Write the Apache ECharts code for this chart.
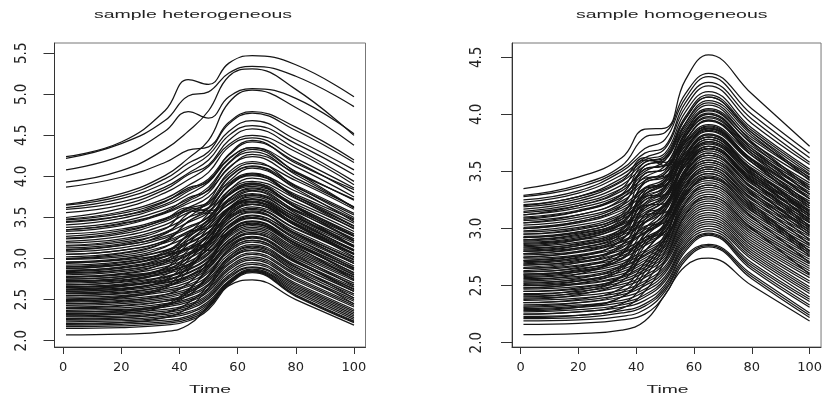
<!DOCTYPE html>
<html>
<head>
<meta charset="utf-8">
<script src="https://cdn.jsdelivr.net/npm/echarts@6/dist/echarts.min.js"></script>
<style>html,body{margin:0;padding:0;background:#fff}#chart{width:825px;height:396px}</style>
</head>
<body>
<div id="chart"></div>
<script>
const timePoints = [1, 20, 35, 43, 50, 57, 65, 80, 100];
const xTicks = [0, 20, 40, 60, 80, 100];
const heteroYTicks = [2.0, 2.5, 3.0, 3.5, 4.0, 4.5, 5.0, 5.5];
const homoYTicks = [2.0, 2.5, 3.0, 3.5, 4.0, 4.5];
const panelTitles = ['sample heterogeneous', 'sample homogeneous'];
const xTitle = 'Time';

// ---- sample heterogeneous (values at timePoints) ----
const heteroTop = [
  [4.24,4.42,4.80,5.18,5.12,5.38,5.47,5.36,4.97],
  [4.22,4.40,4.68,4.98,5.03,5.26,5.34,5.22,4.85],
  [4.08,4.25,4.55,4.79,4.71,4.97,5.07,4.95,4.52],
  [3.93,4.07,4.33,4.55,4.80,5.22,5.31,5.06,4.50],
  [3.87,3.99,4.17,4.32,4.36,4.66,4.79,4.60,4.20]
];
const heteroUpper = [
  [3.66,3.79,4.01,4.22,4.44,4.90,5.05,4.84,4.38],
  [3.65,3.76,3.97,4.16,4.30,4.64,4.77,4.56,4.17],
  [3.62,3.73,3.92,4.10,4.26,4.55,4.68,4.45,4.08],
  [3.60,3.69,3.87,4.04,4.20,4.50,4.62,4.40,4.02],
  [3.56,3.65,3.84,4.02,4.14,4.44,4.58,4.34,3.94],
  [3.50,3.61,3.80,3.96,4.12,4.39,4.50,4.30,3.90],
  [3.48,3.57,3.73,3.89,4.05,4.36,4.47,4.22,3.86],
  [3.47,3.55,3.70,3.84,3.97,4.26,4.42,4.18,3.80],
  [3.44,3.52,3.69,3.86,3.94,4.27,4.44,4.16,3.84],
  [3.41,3.49,3.64,3.78,3.93,4.21,4.35,4.12,3.75],
  [3.38,3.45,3.60,3.72,3.87,4.17,4.33,4.06,3.71],
  [3.35,3.43,3.57,3.74,3.83,4.10,4.27,4.04,3.72],
  [3.33,3.40,3.55,3.67,3.80,4.11,4.24,3.98,3.63],
  [3.30,3.36,3.49,3.62,3.75,4.02,4.16,3.95,3.60],
  [3.27,3.34,3.47,3.61,3.69,3.99,4.13,3.89,3.55],
  [3.24,3.30,3.45,3.59,3.66,3.94,4.10,3.87,3.53],
  [3.21,3.27,3.41,3.56,3.62,3.88,4.03,3.82,3.48],
  [3.19,3.24,3.37,3.50,3.61,3.89,4.01,3.78,3.47]
];
const heteroMiddle = [
  [3.16,3.22,3.36,3.58,3.55,3.83,3.98,3.76,3.43],
  [3.13,3.18,3.31,3.44,3.56,3.83,3.94,3.73,3.39],
  [3.11,3.16,3.27,3.39,3.50,3.78,3.92,3.69,3.37],
  [3.08,3.13,3.25,3.37,3.51,3.77,3.88,3.66,3.33],
  [3.05,3.10,3.21,3.33,3.47,3.73,3.86,3.63,3.30],
  [3.02,3.07,3.19,3.31,3.43,3.70,3.83,3.59,3.27],
  [3.00,3.04,3.15,3.27,3.43,3.67,3.79,3.57,3.24],
  [2.99,3.02,3.14,3.33,3.37,3.61,3.77,3.53,3.21],
  [2.96,3.00,3.10,3.22,3.37,3.61,3.73,3.50,3.19],
  [2.94,2.99,3.09,3.19,3.33,3.57,3.72,3.48,3.16],
  [2.92,2.96,3.06,3.18,3.32,3.59,3.69,3.46,3.14],
  [2.90,2.93,3.03,3.14,3.29,3.53,3.66,3.43,3.11],
  [2.88,2.92,3.02,3.12,3.27,3.51,3.63,3.41,3.09],
  [2.86,2.89,2.99,3.11,3.26,3.50,3.61,3.37,3.06],
  [2.84,2.88,2.97,3.07,3.21,3.48,3.60,3.36,3.05],
  [2.83,2.86,2.95,3.05,3.20,3.45,3.57,3.33,3.01],
  [2.80,2.84,2.93,3.04,3.18,3.44,3.56,3.31,2.99],
  [2.78,2.81,2.90,3.00,3.15,3.41,3.53,3.28,2.96],
  [2.77,2.80,2.88,3.12,3.10,3.38,3.50,3.26,2.94],
  [2.75,2.78,2.86,2.96,3.11,3.37,3.49,3.24,2.91],
  [2.73,2.76,2.84,2.93,3.08,3.34,3.46,3.21,2.89],
  [2.72,2.74,2.83,2.92,3.06,3.33,3.45,3.19,2.87],
  [2.70,2.73,2.81,2.90,3.05,3.30,3.43,3.18,2.86]
];
const heteroLower = [
  [2.68,2.71,2.78,2.87,3.02,3.28,3.40,3.16,2.83],
  [2.66,2.69,2.77,2.86,3.00,3.26,3.38,3.13,2.80],
  [2.65,2.67,2.74,2.83,2.97,3.23,3.36,3.11,2.78],
  [2.63,2.66,2.73,2.82,2.96,3.22,3.34,3.09,2.77],
  [2.62,2.64,2.71,2.79,2.93,3.19,3.32,3.07,2.75],
  [2.60,2.63,2.70,2.78,2.92,3.18,3.30,3.05,2.73],
  [2.58,2.61,2.68,2.76,2.90,3.16,3.27,3.02,2.70],
  [2.57,2.59,2.66,2.74,2.88,3.14,3.26,3.00,2.68],
  [2.55,2.57,2.63,2.71,2.85,3.10,3.22,2.97,2.65],
  [2.53,2.55,2.61,2.68,2.83,3.08,3.20,2.95,2.63],
  [2.51,2.53,2.59,2.66,2.79,3.05,3.17,2.92,2.60],
  [2.49,2.51,2.56,2.63,2.76,3.02,3.14,2.89,2.57],
  [2.47,2.49,2.54,2.61,2.74,3.00,3.12,2.87,2.55],
  [2.45,2.47,2.52,2.59,2.72,2.98,3.10,2.85,2.52],
  [2.43,2.45,2.50,2.56,2.69,2.95,3.07,2.82,2.50],
  [2.41,2.43,2.48,2.54,2.67,2.93,3.05,2.80,2.48],
  [2.39,2.40,2.45,2.51,2.64,2.90,3.02,2.77,2.45],
  [2.37,2.38,2.43,2.49,2.62,2.88,3.00,2.75,2.43],
  [2.35,2.36,2.41,2.47,2.60,2.86,2.98,2.73,2.41],
  [2.33,2.34,2.38,2.44,2.57,2.83,2.95,2.70,2.38],
  [2.31,2.32,2.36,2.42,2.55,2.80,2.93,2.68,2.36],
  [2.29,2.30,2.34,2.40,2.53,2.78,2.90,2.66,2.34],
  [2.27,2.28,2.32,2.38,2.51,2.76,2.89,2.64,2.32],
  [2.25,2.26,2.30,2.35,2.48,2.73,2.87,2.62,2.30],
  [2.23,2.24,2.28,2.33,2.46,2.72,2.86,2.60,2.28],
  [2.21,2.22,2.25,2.30,2.44,2.71,2.85,2.58,2.26],
  [2.19,2.20,2.23,2.28,2.42,2.70,2.84,2.56,2.24],
  [2.17,2.18,2.21,2.26,2.40,2.70,2.84,2.55,2.23],
  [2.15,2.16,2.19,2.24,2.38,2.68,2.83,2.54,2.22],
  [2.07,2.08,2.11,2.19,2.42,2.67,2.74,2.50,2.19]
];
const heteroCross = [
  [2.62,2.66,2.80,3.02,3.30,3.62,3.75,3.50,3.15],
  [2.95,2.98,3.05,3.12,3.20,3.40,3.52,3.30,2.98],
  [2.48,2.52,2.64,2.85,3.20,3.55,3.66,3.40,3.02],
  [3.25,3.32,3.48,3.62,3.58,3.70,3.82,3.55,3.15],
  [2.85,2.90,3.02,3.25,3.48,3.80,3.92,3.62,3.22],
  [2.30,2.33,2.42,2.60,2.92,3.30,3.42,3.15,2.74],
  [2.72,2.76,2.88,3.10,3.38,3.72,3.85,3.58,3.22],
  [3.05,3.10,3.22,3.45,3.62,3.98,4.12,3.85,3.45],
  [2.55,2.58,2.66,2.78,2.98,3.32,3.45,3.18,2.80],
  [2.40,2.42,2.48,2.58,2.80,3.12,3.25,2.98,2.62],
  [3.45,3.52,3.66,3.82,3.95,4.22,4.35,4.05,3.62],
  [2.78,2.82,2.95,3.18,3.44,3.78,3.90,3.62,3.28],
  [2.26,2.28,2.34,2.46,2.68,3.02,3.15,2.90,2.52],
  [2.90,2.95,3.08,3.30,3.55,3.90,4.02,3.74,3.36],
  [2.60,2.63,2.72,2.88,3.15,3.52,3.66,3.40,3.06],
  [3.15,3.20,3.32,3.50,3.70,4.05,4.18,3.88,3.50],
  [2.35,2.37,2.44,2.55,2.78,3.10,3.22,2.96,2.60],
  [2.68,2.72,2.84,3.05,3.30,3.60,3.70,3.42,3.05],
  [2.82,2.86,2.98,3.22,3.40,3.62,3.72,3.45,3.10],
  [2.45,2.48,2.56,2.70,2.96,3.30,3.42,3.18,2.82],
  [3.00,3.06,3.20,3.45,3.58,3.78,3.90,3.64,3.28],
  [2.58,2.62,2.74,2.98,3.25,3.60,3.72,3.46,3.10],
  [3.35,3.42,3.56,3.70,3.84,4.16,4.30,4.02,3.62],
  [2.20,2.22,2.28,2.40,2.64,2.98,3.10,2.84,2.45],
  [2.75,2.78,2.87,3.00,3.22,3.55,3.68,3.42,3.06],
  [2.50,2.54,2.66,2.90,3.12,3.40,3.50,3.24,2.88],
  [2.88,2.93,3.06,3.28,3.46,3.66,3.78,3.52,3.14],
  [2.65,2.68,2.76,2.92,3.18,3.48,3.58,3.30,2.94],
  [3.10,3.16,3.30,3.55,3.68,3.92,4.04,3.76,3.40],
  [2.32,2.35,2.44,2.62,2.88,3.20,3.30,3.04,2.66]
];

// ---- sample homogeneous (values at timePoints) ----
const homoUpper = [
  [3.35,3.45,3.62,3.87,3.88,4.30,4.52,4.18,3.72],
  [3.29,3.38,3.55,3.80,3.84,4.18,4.36,4.05,3.66],
  [3.28,3.36,3.52,3.70,3.78,4.14,4.33,4.00,3.62],
  [3.25,3.33,3.50,3.66,3.72,4.10,4.28,3.96,3.58],
  [3.23,3.31,3.47,3.62,3.70,4.06,4.25,3.92,3.56],
  [3.21,3.28,3.44,3.60,3.66,4.02,4.20,3.88,3.52],
  [3.19,3.26,3.41,3.58,3.64,3.98,4.17,3.86,3.50],
  [3.17,3.24,3.38,3.55,3.62,3.96,4.15,3.84,3.48],
  [3.15,3.22,3.35,3.50,3.60,3.92,4.10,3.80,3.47],
  [3.14,3.20,3.33,3.52,3.56,3.88,4.05,3.78,3.45],
  [3.12,3.18,3.30,3.45,3.55,3.86,4.03,3.75,3.43],
  [3.10,3.16,3.29,3.48,3.52,3.84,4.01,3.72,3.40],
  [3.09,3.15,3.27,3.42,3.50,3.82,4.00,3.70,3.38],
  [3.07,3.12,3.24,3.40,3.48,3.80,3.97,3.68,3.36],
  [3.05,3.10,3.22,3.44,3.46,3.77,3.94,3.66,3.34],
  [3.03,3.08,3.20,3.36,3.44,3.75,3.91,3.64,3.32],
  [3.01,3.06,3.18,3.33,3.42,3.73,3.89,3.61,3.30],
  [3.00,3.05,3.16,3.30,3.40,3.70,3.87,3.60,3.28]
];
const homoMiddle = [
  [2.98,3.03,3.14,3.35,3.38,3.68,3.85,3.58,3.26],
  [2.97,3.01,3.12,3.27,3.37,3.66,3.83,3.55,3.24],
  [2.95,2.99,3.10,3.25,3.35,3.64,3.80,3.53,3.22],
  [2.93,2.97,3.08,3.22,3.33,3.62,3.78,3.51,3.20],
  [2.92,2.96,3.06,3.28,3.30,3.60,3.76,3.49,3.18],
  [2.90,2.94,3.04,3.18,3.29,3.58,3.74,3.47,3.16],
  [2.89,2.93,3.03,3.16,3.27,3.57,3.72,3.45,3.15],
  [2.87,2.91,3.01,3.14,3.25,3.55,3.70,3.43,3.13],
  [2.86,2.90,2.99,3.20,3.22,3.52,3.68,3.41,3.11],
  [2.84,2.88,2.97,3.10,3.21,3.50,3.66,3.39,3.09],
  [2.83,2.86,2.96,3.08,3.20,3.49,3.64,3.37,3.07],
  [2.81,2.85,2.94,3.06,3.18,3.47,3.62,3.35,3.05],
  [2.80,2.83,2.92,3.05,3.16,3.46,3.60,3.33,3.03],
  [2.78,2.82,2.91,3.12,3.14,3.44,3.58,3.31,3.01],
  [2.77,2.80,2.89,3.01,3.12,3.42,3.56,3.29,2.99],
  [2.75,2.79,2.88,2.99,3.10,3.40,3.54,3.27,2.97],
  [2.74,2.77,2.86,2.97,3.09,3.38,3.52,3.25,2.95],
  [2.72,2.76,2.84,2.96,3.07,3.37,3.50,3.23,2.93],
  [2.71,2.74,2.83,3.02,3.05,3.35,3.48,3.21,2.91],
  [2.69,2.73,2.81,2.92,3.03,3.33,3.46,3.19,2.89],
  [2.68,2.71,2.79,2.90,3.02,3.31,3.44,3.17,2.87],
  [2.66,2.70,2.78,2.89,3.00,3.30,3.42,3.15,2.85],
  [2.65,2.68,2.76,2.87,2.98,3.28,3.40,3.13,2.83],
  [2.63,2.67,2.74,2.85,2.97,3.26,3.38,3.11,2.81],
  [2.62,2.65,2.73,2.92,2.95,3.24,3.36,3.09,2.79]
];
const homoLower = [
  [2.60,2.63,2.71,2.81,2.93,3.22,3.34,3.07,2.77],
  [2.59,2.62,2.69,2.79,2.91,3.20,3.32,3.05,2.75],
  [2.57,2.60,2.67,2.77,2.90,3.18,3.30,3.03,2.73],
  [2.56,2.58,2.66,2.76,2.88,3.16,3.28,3.01,2.71],
  [2.54,2.57,2.64,2.74,2.86,3.14,3.26,2.99,2.69],
  [2.53,2.55,2.62,2.72,2.84,3.12,3.24,2.97,2.67],
  [2.51,2.54,2.60,2.70,2.82,3.10,3.22,2.95,2.65],
  [2.50,2.52,2.58,2.68,2.80,3.08,3.20,2.93,2.63],
  [2.48,2.51,2.57,2.66,2.78,3.06,3.18,2.91,2.61],
  [2.47,2.49,2.55,2.64,2.76,3.04,3.16,2.89,2.59],
  [2.45,2.47,2.53,2.62,2.74,3.02,3.14,2.87,2.57],
  [2.43,2.45,2.51,2.59,2.72,3.00,3.12,2.85,2.54],
  [2.41,2.43,2.49,2.57,2.70,2.98,3.10,2.83,2.52],
  [2.39,2.41,2.46,2.54,2.67,2.96,3.08,2.81,2.49],
  [2.37,2.39,2.44,2.52,2.65,2.94,3.06,2.79,2.47],
  [2.35,2.37,2.42,2.50,2.63,2.92,3.04,2.77,2.45],
  [2.33,2.35,2.40,2.47,2.61,2.90,3.02,2.75,2.43],
  [2.31,2.33,2.37,2.45,2.58,2.88,3.00,2.73,2.40],
  [2.29,2.31,2.35,2.42,2.56,2.86,2.98,2.70,2.38],
  [2.27,2.29,2.33,2.40,2.54,2.84,2.96,2.68,2.36],
  [2.25,2.27,2.31,2.37,2.51,2.82,2.95,2.66,2.33],
  [2.23,2.24,2.28,2.34,2.49,2.80,2.94,2.64,2.31],
  [2.21,2.22,2.26,2.32,2.47,2.76,2.86,2.60,2.26],
  [2.19,2.20,2.23,2.29,2.45,2.74,2.85,2.58,2.24],
  [2.16,2.17,2.20,2.25,2.42,2.72,2.84,2.56,2.22],
  [2.07,2.08,2.11,2.19,2.42,2.67,2.74,2.50,2.19]
];
const homoCross = [
  [2.55,2.60,2.78,3.12,3.20,3.62,3.82,3.52,3.12],
  [2.88,2.92,3.05,3.30,3.38,3.55,3.70,3.44,3.08],
  [2.40,2.44,2.58,2.88,3.05,3.48,3.66,3.36,2.96],
  [3.20,3.28,3.42,3.62,3.55,3.78,3.95,3.64,3.26],
  [2.70,2.75,2.90,3.22,3.35,3.80,4.00,3.70,3.30],
  [2.28,2.31,2.40,2.62,2.90,3.35,3.52,3.22,2.80],
  [2.95,3.00,3.12,3.48,3.52,3.92,4.12,3.82,3.42],
  [2.62,2.66,2.80,3.05,3.20,3.55,3.72,3.42,3.02],
  [2.48,2.52,2.64,2.92,3.10,3.50,3.70,3.40,3.00],
  [3.05,3.12,3.26,3.55,3.60,3.90,4.08,3.76,3.36],
  [2.35,2.38,2.48,2.70,2.95,3.30,3.45,3.18,2.78],
  [2.80,2.85,2.98,3.35,3.40,3.70,3.86,3.58,3.20],
  [2.22,2.24,2.30,2.45,2.72,3.12,3.28,3.00,2.60],
  [2.92,2.97,3.10,3.40,3.45,3.62,3.76,3.48,3.12],
  [2.58,2.62,2.74,3.00,3.18,3.62,3.80,3.50,3.10],
  [3.12,3.20,3.35,3.60,3.58,3.82,3.98,3.68,3.30],
  [2.45,2.48,2.58,2.80,3.02,3.42,3.58,3.30,2.90],
  [2.75,2.80,2.94,3.25,3.30,3.55,3.70,3.42,3.05],
  [2.65,2.70,2.85,3.18,3.28,3.68,3.88,3.58,3.18],
  [2.32,2.35,2.44,2.66,2.92,3.32,3.48,3.20,2.80],
  [2.85,2.90,3.04,3.30,3.42,3.84,4.04,3.74,3.34],
  [2.52,2.56,2.68,2.95,3.10,3.45,3.60,3.32,2.94],
  [3.00,3.06,3.20,3.52,3.55,3.75,3.90,3.60,3.22],
  [2.42,2.46,2.58,2.85,3.05,3.52,3.72,3.42,3.02],
  [2.68,2.72,2.86,3.12,3.25,3.58,3.75,3.46,3.08],
  [2.25,2.27,2.34,2.52,2.80,3.22,3.38,3.10,2.70],
  [2.78,2.83,2.96,3.28,3.36,3.76,3.95,3.66,3.26],
  [2.60,2.64,2.77,3.08,3.22,3.50,3.64,3.36,2.98],
  [3.08,3.15,3.30,3.58,3.62,3.96,4.15,3.84,3.44],
  [2.38,2.42,2.54,2.80,3.00,3.38,3.54,3.26,2.86],
  [2.90,2.95,3.08,3.42,3.48,3.72,3.88,3.60,3.22],
  [2.50,2.54,2.66,2.96,3.15,3.58,3.78,3.48,3.06],
  [2.72,2.76,2.90,3.20,3.30,3.64,3.82,3.52,3.14],
  [2.30,2.32,2.40,2.58,2.86,3.28,3.44,3.16,2.76],
  [2.82,2.87,3.00,3.32,3.42,3.66,3.80,3.52,3.16]
];

const heteroCurves = [].concat(heteroTop, heteroUpper, heteroMiddle, heteroLower, heteroCross);
const homoCurves = [].concat(homoUpper, homoMiddle, homoLower, homoCross);

const chart = echarts.init(document.getElementById('chart'), null, {renderer: 'canvas'});
const ink = '#161616';

function curveSeries(curves, idx) {
  return curves.map(function (row) {
    return {
      type: 'line', xAxisIndex: idx, yAxisIndex: idx,
      data: timePoints.map(function (t, i) { return [t, row[i]]; }),
      smooth: 0.45, symbol: 'none', silent: true,
      lineStyle: {color: ink, width: 1.25}, animation: false
    };
  });
}

function xAxisCfg(idx) {
  return {
    type: 'value', gridIndex: idx, min: -2.96, max: 103.96,
    axisLine: {show: true, onZero: false, lineStyle: {color: '#333', width: 1}},
    axisTick: {show: true, customValues: xTicks, length: 7, lineStyle: {color: '#333'}},
    axisLabel: {customValues: xTicks, margin: 14, color: '#222',
      fontFamily: 'DejaVu Sans', fontSize: 13},
    splitLine: {show: false}
  };
}
function yAxisCfg(idx, min, max, ticks, margin) {
  return {
    type: 'value', gridIndex: idx, min: min, max: max,
    axisLine: {show: true, onZero: false, lineStyle: {color: '#333', width: 1}},
    axisTick: {show: true, customValues: ticks, length: 11, lineStyle: {color: '#333'}},
    axisLabel: {customValues: ticks, rotate: 90, margin: margin, color: '#222',
      fontFamily: '"Liberation Sans Narrow", "DejaVu Sans Condensed", "Liberation Sans", sans-serif',
      fontSize: 15, formatter: function (v) { return v.toFixed(1); }},
    splitLine: {show: false}
  };
}

function label(text, x, y, size, sx) {
  return {type: 'text', x: x, y: y, scaleX: sx, silent: true,
    style: {text: text, fill: '#222', font: size + 'px "Liberation Sans", Arial, sans-serif',
      textAlign: 'center', textVerticalAlign: 'middle'}};
}

chart.setOption({
  animation: false,
  backgroundColor: '#fff',
  grid: [
    {left: 54.5, top: 43, width: 311, height: 304, show: true, borderColor: '#777', borderWidth: 1, backgroundColor: 'transparent'},
    {left: 512, top: 43, width: 311.5, height: 304, show: true, borderColor: '#777', borderWidth: 1, backgroundColor: 'transparent'}
  ],
  xAxis: [xAxisCfg(0), xAxisCfg(1)],
  yAxis: [
    yAxisCfg(0, 1.923, 5.625, heteroYTicks, 25),
    yAxisCfg(1, 1.962, 4.625, homoYTicks, 27)
  ],
  graphic: [
    label(panelTitles[0], 193, 15, 11, 1.77),
    label(panelTitles[1], 671.7, 15, 11, 1.77),
    label(xTitle, 210, 390, 11.5, 1.68),
    label(xTitle, 667.5, 390, 11.5, 1.68)
  ],
  series: [].concat(curveSeries(heteroCurves, 0), curveSeries(homoCurves, 1))
});
</script>
</body>
</html>
